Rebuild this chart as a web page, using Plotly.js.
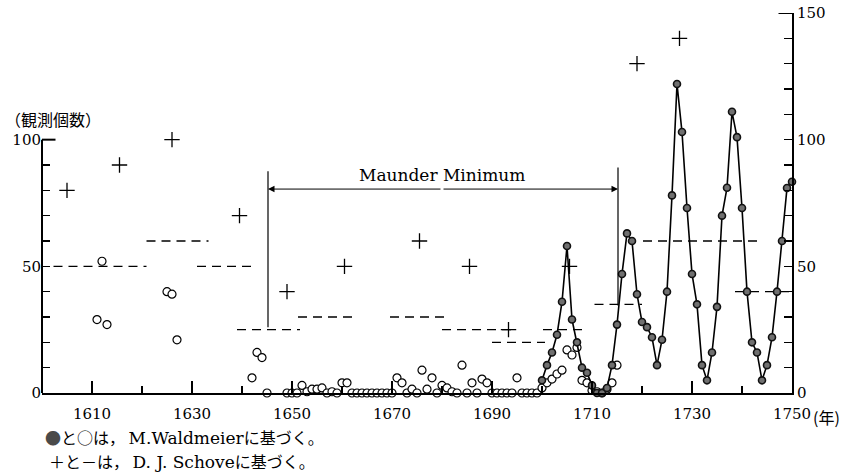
<!DOCTYPE html>
<html>
<head>
<meta charset="utf-8">
<script src="https://cdn.plot.ly/plotly-3.0.1.min.js"></script>
<style>
html,body{margin:0;padding:0;background:#fff;}
#chart{width:843px;height:472px;}
</style>
</head>
<body>
<div id="chart"></div>
<script>
// ---- Data ----
// D. J. Schove: cycle maxima (+)
const schoveMaxYears  = [1605, 1615.5, 1626, 1639.5, 1649, 1660.5, 1675.5, 1685.5, 1693.3, 1705.5, 1719, 1727.5];
const schoveMaxValues = [80, 90, 100, 70, 40, 50, 60, 50, 25, 50, 130, 140];

// D. J. Schove: cycle mean levels (dashed segments)
const schoveSegStart = [1602.3, 1620.9, 1631, 1639, 1651.2, 1669.6, 1680, 1690, 1700.2, 1710.5, 1720.2, 1738.6];
const schoveSegEnd   = [1620.9, 1633.3, 1642.3, 1651.6, 1662, 1681.6, 1694.2, 1700.6, 1708, 1720, 1743, 1750];
const schoveSegLevel = [50, 60, 50, 25, 30, 30, 25, 20, 25, 35, 60, 40];

// M. Waldmeier: observation counts (open circles, left axis)
const obsYears = [1611, 1612, 1613, 1625, 1626, 1627, 1642, 1643, 1644, 1645,
  1649, 1650, 1651, 1652, 1653, 1654, 1655, 1656, 1657, 1658, 1659, 1660, 1661,
  1662, 1663, 1664, 1665, 1666, 1667, 1668, 1669, 1670, 1671, 1672, 1673, 1674,
  1675, 1676, 1677, 1678, 1679, 1680, 1681, 1682, 1683, 1684, 1685, 1686, 1687,
  1688, 1689, 1690, 1691, 1692, 1693, 1694, 1695, 1696, 1697, 1698, 1699, 1700,
  1701, 1702, 1703, 1704, 1705, 1706, 1707, 1708, 1709, 1710, 1711, 1712, 1713,
  1714, 1715];
const obsCounts = [29, 52, 27, 40, 39, 21, 6, 16, 14, 0,
  0, 0, 0, 3, 0.5, 1.5, 1.5, 2, 0, 0.5, 0, 4, 4,
  0, 0, 0, 0, 0, 0, 0, 0, 0, 6, 4, 0, 1.5,
  0, 9, 1.5, 6, 0, 3, 2, 0.5, 0, 11, 0, 4, 0,
  5.5, 4, 0, 0, 0, 0, 0, 6, 0, 0, 0, 0, 2,
  4, 5.5, 7.5, 9, 17, 15, 18, 5, 4, 1, 0.5, 0, 1.5,
  4, 11];

// M. Waldmeier: yearly sunspot numbers (filled circles, right axis)
const ssnYears = [1700,1701,1702,1703,1704,1705,1706,1707,1708,1709,
  1710,1711,1712,1713,1714,1715,1716,1717,1718,1719,
  1720,1721,1722,1723,1724,1725,1726,1727,1728,1729,
  1730,1731,1732,1733,1734,1735,1736,1737,1738,1739,
  1740,1741,1742,1743,1744,1745,1746,1747,1748,1749,1750];
const ssnValues = [5,11,16,23,36,58,29,20,10,8,
  3,0,0,2,11,27,47,63,60,39,
  28,26,22,11,21,40,78,122,103,73,
  47,35,11,5,16,34,70,81,111,101,
  73,40,20,16,5,11,22,40,60,80.9,83.4];

// Axis ticks and labels
const xTickVals = [1610, 1630, 1650, 1670, 1690, 1710, 1730, 1750];
const xTickText = ['1610', '1630', '1650', '1670', '1690', '1710', '1730', '1750'];
const xMinorTickVals = [1620, 1640, 1660, 1680, 1700, 1720, 1740];
const leftTickVals = [0, 10, 20, 30, 40, 50, 60, 70, 80, 90, 100];
const leftTickText = ['0', '', '', '', '', '50', '', '', '', '', '100'];
const rightTickVals = [0, 10, 20, 30, 40, 50, 60, 70, 80, 90, 100, 110, 120, 130, 140, 150];
const rightTickText = ['0', '', '', '', '', '50', '', '', '', '', '100', '', '', '', '', '150'];

// Maunder Minimum span
const maunderStart = 1645.2;
const maunderEnd = 1715.2;

// ---- Build traces ----
const segX = [], segY = [];
for (let i = 0; i < schoveSegStart.length; i++) {
  segX.push(schoveSegStart[i], schoveSegEnd[i], null);
  segY.push(schoveSegLevel[i], schoveSegLevel[i], null);
}

const serif = 'DejaVu Serif';
const cjk = 'Noto Sans CJK JP';

const traces = [
  {
    x: segX, y: segY, type: 'scatter', mode: 'lines',
    line: {color: '#000', width: 1.3, dash: '9px,6px'},
    hoverinfo: 'skip', showlegend: false, cliponaxis: false
  },
  {
    x: obsYears, y: obsCounts, type: 'scatter', mode: 'markers',
    marker: {symbol: 'circle', size: 8, color: '#fff', line: {color: '#000', width: 1.2}},
    showlegend: false, cliponaxis: false
  },
  {
    x: ssnYears, y: ssnValues, type: 'scatter', mode: 'lines+markers', yaxis: 'y2',
    line: {color: '#000', width: 1.6},
    marker: {symbol: 'circle', size: 7, color: '#707070', line: {color: '#111', width: 1.6}},
    showlegend: false, cliponaxis: false
  },
  {
    x: schoveMaxYears, y: schoveMaxValues, type: 'scatter', mode: 'markers',
    marker: {symbol: 'cross-thin', size: 11, color: '#000', line: {color: '#000', width: 1.3}},
    showlegend: false, cliponaxis: false
  }
];

const layout = {
  width: 843, height: 472,
  margin: {l: 42, r: 51, t: 13, b: 79},
  paper_bgcolor: '#fff', plot_bgcolor: '#fff',
  showlegend: false,
  font: {family: serif, color: '#000', size: 15},
  xaxis: {
    range: [1600, 1750], tickmode: 'array', tickvals: xTickVals, ticktext: xTickText,
    ticks: 'inside', ticklen: 12, tickwidth: 1.5, tickcolor: '#000',
    showline: true, linewidth: 2, linecolor: '#000',
    showgrid: false, zeroline: false, ticklabelstandoff: 6,
    tickfont: {family: serif, size: 15, color: '#000'},
    minor: {tickmode: 'array', tickvals: xMinorTickVals, ticks: 'inside', ticklen: 7, tickwidth: 1.3, tickcolor: '#000', showgrid: false}
  },
  yaxis: {
    range: [0, 150], tickmode: 'array', tickvals: leftTickVals, ticktext: leftTickText,
    ticks: 'inside', ticklen: 8, tickwidth: 1.3, tickcolor: '#000',
    showline: false, showgrid: false, zeroline: false,
    tickfont: {family: serif, size: 15, color: '#000'}
  },
  yaxis2: {
    range: [0, 150], overlaying: 'y', side: 'right', tickmode: 'array',
    tickvals: rightTickVals, ticktext: rightTickText,
    ticks: 'inside', ticklen: 8, tickwidth: 1.3, tickcolor: '#000',
    showline: true, linewidth: 2, linecolor: '#000',
    showgrid: false, zeroline: false,
    tickfont: {family: serif, size: 15, color: '#000'}
  },
  shapes: [
    {type: 'line', xref: 'paper', yref: 'y', x0: 0, x1: 0, y0: 0, y1: 100, line: {color: '#000', width: 2}},
    {type: 'line', xref: 'paper', yref: 'y', x0: 0, x1: 0.018, y0: 100, y1: 100, line: {color: '#000', width: 2}},
    {type: 'line', xref: 'paper', yref: 'y', x0: 0.982, x1: 1, y0: 150, y1: 150, line: {color: '#000', width: 2}},
    {type: 'line', xref: 'x', yref: 'y', x0: maunderStart, x1: maunderStart, y0: 26, y1: 87.5, line: {color: '#000', width: 1.2}},
    {type: 'line', xref: 'x', yref: 'y', x0: maunderEnd, x1: maunderEnd, y0: 34.5, y1: 89, line: {color: '#000', width: 1.2}}
  ],
  annotations: [
    {x: maunderStart, y: 80.5, ax: 1680, ay: 80.5, xref: 'x', yref: 'y', axref: 'x', ayref: 'y',
     text: '', showarrow: true, arrowhead: 2, arrowsize: 1.3, arrowwidth: 1, arrowcolor: '#000', standoff: 0, startstandoff: 0},
    {x: maunderEnd, y: 80.5, ax: 1680, ay: 80.5, xref: 'x', yref: 'y', axref: 'x', ayref: 'y',
     text: '', showarrow: true, arrowhead: 2, arrowsize: 1.3, arrowwidth: 1, arrowcolor: '#000', standoff: 0, startstandoff: 0},
    {x: 1680, y: 86, xref: 'x', yref: 'y', text: 'Maunder Minimum', showarrow: false,
     font: {family: serif, size: 17, color: '#000'}},
    {x: 0.0147, y: 0.72, xref: 'paper', yref: 'paper', text: '（観測個数）', showarrow: false,
     xanchor: 'center', yanchor: 'middle', font: {family: cjk, size: 16, color: '#000'}},
    {x: 1.0253, y: -0.0635, xref: 'paper', yref: 'paper', text: '(年)', showarrow: false,
     xanchor: 'left', yanchor: 'middle', font: {family: cjk, size: 16, color: '#000'}},
    {x: 0.0013, y: -0.117, xref: 'paper', yref: 'paper', xanchor: 'left', yanchor: 'middle', showarrow: false,
     text: '<span style="color:#4a4a4a">●</span>と○は，&nbsp;<span style="font-family:DejaVu Serif;font-size:17px">M.Waldmeier</span>に基づく。',
     font: {family: cjk, size: 16, color: '#000'}},
    {x: 0.0067, y: -0.178, xref: 'paper', yref: 'paper', xanchor: 'left', yanchor: 'middle', showarrow: false,
     text: '＋と－は，&nbsp;<span style="font-family:DejaVu Serif;font-size:17px">D. J. Schove</span>に基づく。',
     font: {family: cjk, size: 16, color: '#000'}}
  ]
};

Plotly.newPlot('chart', traces, layout, {staticPlot: true, displayModeBar: false});
</script>
</body>
</html>
